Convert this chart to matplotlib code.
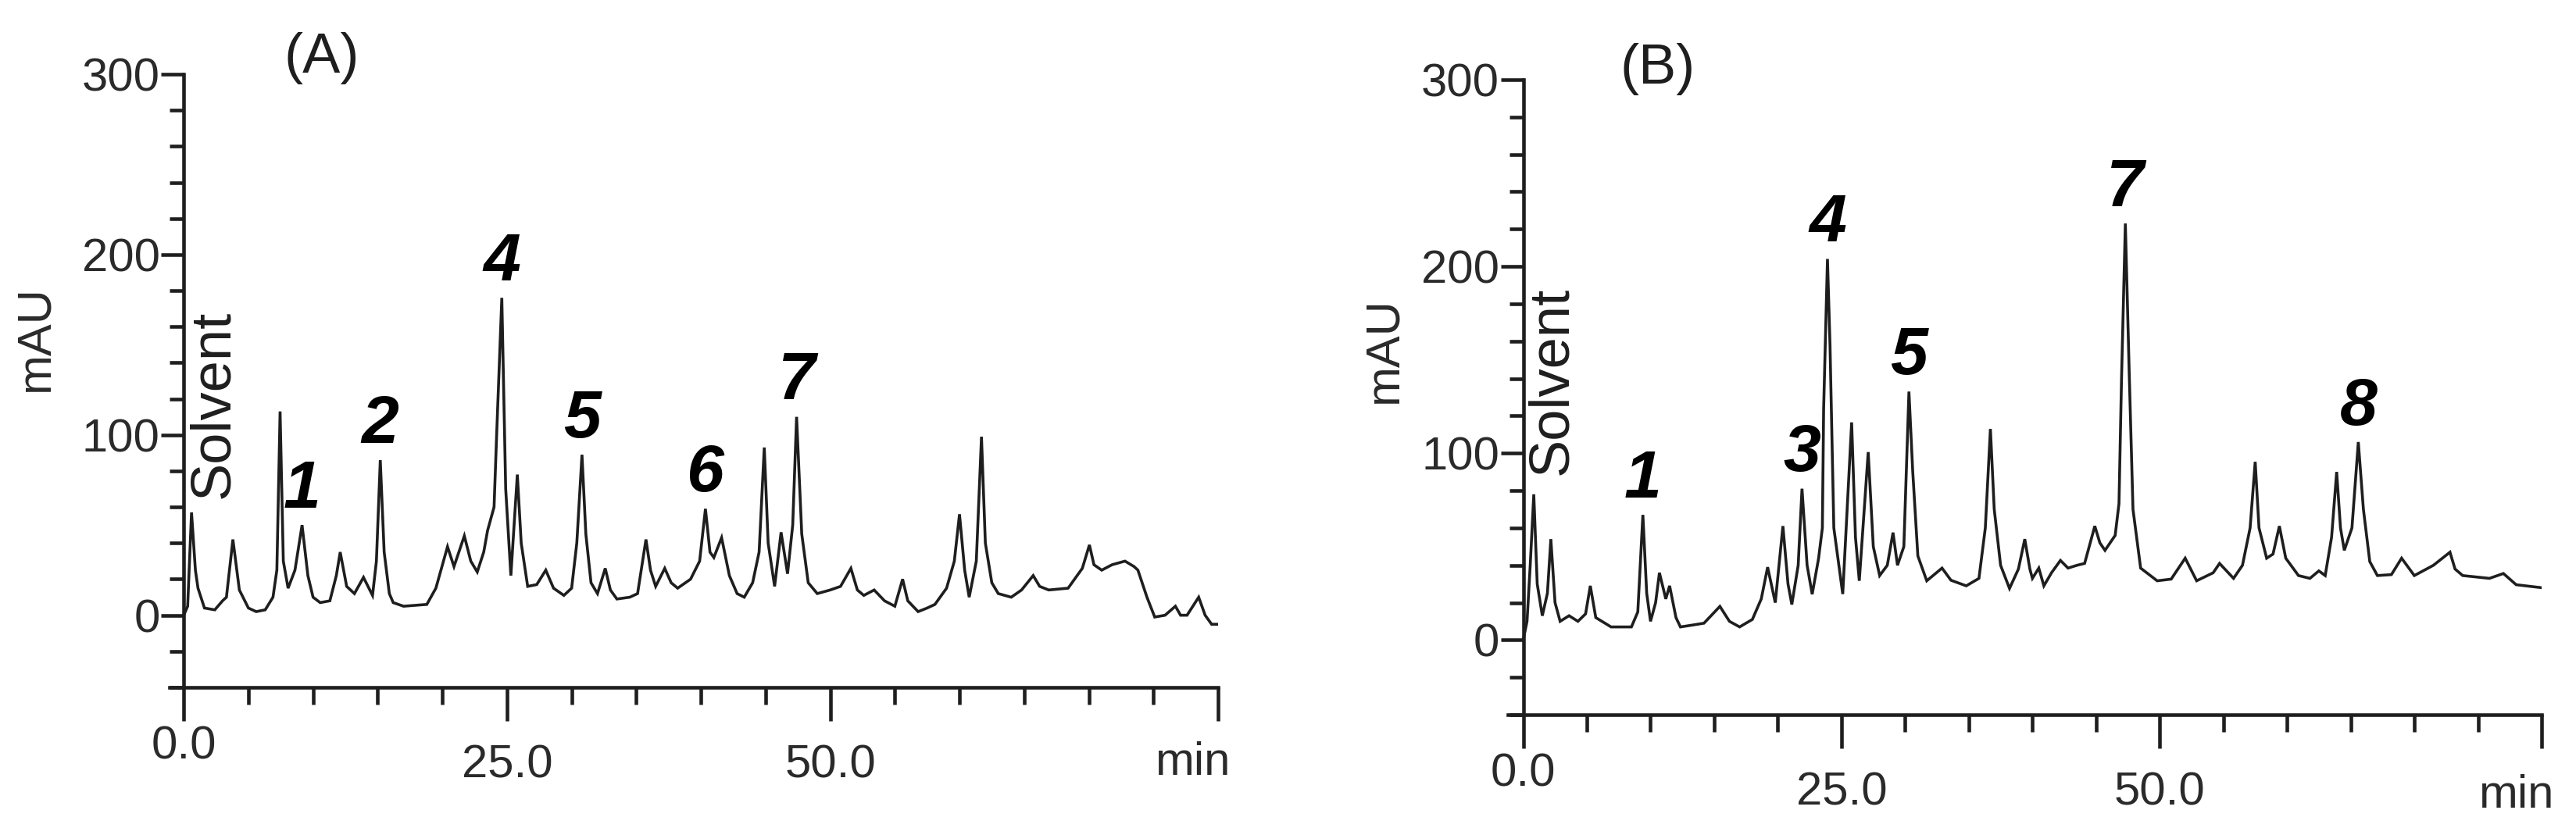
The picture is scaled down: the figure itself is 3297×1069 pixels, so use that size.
import numpy as np
import matplotlib
matplotlib.use("Agg")
import matplotlib.pyplot as plt

plt.rcParams['font.family'] = ['Liberation Sans Narrow', 'Liberation Sans', 'DejaVu Sans']

# chromatogram A (time in min, mAU)
time_a = [0.0, 0.3, 0.6, 0.9, 1.1, 1.6, 2.4, 3.0, 3.3, 3.8, 4.3, 5.0, 5.6, 6.3, 6.9,
          7.2, 7.45, 7.7, 8.07, 8.6, 9.15, 9.6, 10.0, 10.55, 11.3, 11.8, 12.1, 12.6,
          13.2, 13.9, 14.6, 14.9, 15.2, 15.5, 15.9, 16.2, 17.0, 18.8, 19.5, 20.4, 20.9,
          21.7, 22.2, 22.7, 23.2, 23.5, 24.0, 24.2, 24.6, 24.9, 25.3, 25.8, 26.1, 26.6,
          27.3, 28.0, 28.6, 29.4, 30.0, 30.4, 30.8, 31.1, 31.5, 32.0, 32.6, 33.0, 33.5,
          34.5, 35.1, 35.75, 36.1, 36.5, 37.2, 37.7, 38.2, 39.2, 39.9, 40.35, 40.7, 41.0,
          41.6, 42.2, 42.8, 43.35, 44.0, 44.5, 44.9, 45.2, 45.7, 46.2, 46.7, 47.1, 47.4,
          47.8, 48.3, 49.0, 50.0, 50.8, 51.6, 52.1, 52.6, 53.4, 54.2, 55.0, 55.6, 56.0,
          56.8, 57.5, 58.1, 59.0, 59.6, 60.0, 60.4, 60.75, 61.3, 61.7, 62.0, 62.5, 63.0,
          64.0, 64.8, 65.7, 66.2, 66.9, 68.4, 69.5, 70.05, 70.4, 71.0, 71.8, 72.8, 73.5,
          73.8, 74.5, 75.1, 75.9, 76.7, 77.1, 77.6, 78.5, 79.0, 79.5, 80.0]
mau_a = [0, 5, 57, 25, 15, 4, 3, 8, 10, 42, 14, 4, 2, 3, 10,
         25, 113, 30, 15, 25, 50, 22, 10, 7, 8, 22, 35, 16,
         12, 21, 11, 30, 86, 35, 12, 7, 5, 6, 15, 38, 27,
         44, 30, 24, 35, 47, 60, 100, 176, 70, 22, 78, 40, 16,
         17, 25, 15, 11, 15, 40, 89, 45, 18, 12, 26, 14, 9,
         10, 12, 42, 25, 16, 26, 18, 15, 20, 30, 59, 35, 32,
         43, 22, 12, 10, 18, 35, 93, 40, 16, 46, 23, 50, 110,
         45, 18, 12, 14, 16, 26, 14, 11, 14, 8, 5, 20, 8,
         2, 4, 6, 15, 30, 56, 25, 10, 30, 99, 40, 18, 12,
         10, 14, 22, 16, 14, 15, 26, 39, 28, 25, 28, 30, 27,
         25, 10, -1, 0, 5, 0, 0, 10, 0, -5, -5]

# chromatogram B
time_b = [0.0, 0.3, 0.55, 0.83, 1.1, 1.5, 1.9, 2.17, 2.5, 2.9, 3.6, 4.3, 4.9, 5.27, 5.7,
          6.9, 8.5, 9.0, 9.4, 9.7, 10.0, 10.4, 10.7, 11.2, 11.5, 12.0, 12.35, 13.3, 14.2,
          15.45, 16.2, 17.0, 18.0, 18.7, 19.2, 19.8, 20.4, 20.8, 21.1, 21.6, 21.9, 22.3,
          22.7, 23.2, 23.5, 23.6, 23.9, 24.1, 24.4, 25.1, 25.8, 26.1, 26.4, 27.1, 27.5,
          28.0, 28.6, 29.05, 29.4, 29.9, 30.3, 30.6, 31.0, 31.7, 32.9, 33.6, 34.8, 35.8,
          36.3, 36.7, 37.0, 37.5, 38.2, 38.9, 39.4, 39.8, 40.0, 40.5, 40.9, 41.5, 42.2,
          42.8, 43.5, 44.1, 44.9, 45.3, 45.7, 46.5, 46.8, 47.0, 47.3, 47.6, 47.9, 48.5,
          49.8, 50.9, 52.0, 52.9, 54.2, 54.7, 55.8, 56.5, 57.1, 57.5, 57.8, 58.4, 58.9,
          59.4, 59.9, 60.9, 61.8, 62.5, 63.0, 63.5, 63.9, 64.2, 64.5, 65.1, 65.6, 66.0,
          66.5, 67.1, 68.2, 69.0, 70.0, 71.5, 72.8, 73.2, 73.8, 75.9, 77.0, 78.0, 80.0]
mau_b = [0, 10, 40, 78, 30, 13, 25, 54, 20, 10, 13, 10, 14, 29, 12,
         7, 7, 15, 67, 25, 10, 20, 36, 22, 29, 12, 7, 8, 9,
         18, 10, 7, 11, 22, 39, 20, 61, 30, 19, 40, 81, 40,
         24.5, 43.6, 60, 124, 204, 158, 60, 24.6, 116.5, 55, 31.7, 100.6, 50,
         34.5, 40, 57.5, 40, 50, 133, 90, 45, 31.7, 38.5, 32, 29, 33,
         60, 113, 70, 40, 27.6, 38, 54, 38, 33, 38.5, 29, 36, 42.6,
         38.5, 40, 41, 61, 52, 48, 56, 73, 140, 223, 144, 70, 38.5,
         31.7, 32.6, 43.8, 31.7, 36, 41, 33, 40, 60, 95.4, 60, 43.8, 46,
         61, 43.8, 34.5, 33, 37, 34.5, 55, 90, 60, 48, 60, 106, 70,
         42, 34.5, 35, 43.8, 34.5, 40, 47, 38, 34.5, 33, 35.6, 29.6, 28]

peaks_a = ['1', '2', '4', '5', '6', '7']
peak_time_a = [9.15, 15.2, 24.6, 30.8, 40.35, 47.4]
peaks_b = ['1', '3', '4', '5', '7', '8']
peak_time_b = [9.4, 21.9, 23.9, 30.3, 47.3, 65.6]

x_labels = ['0.0', '25.0', '50.0', '']
y_labels = ['0', '100', '200', '300']

ink = '#1e1e1e'
grey_text = '#2a2a2a'
sans = ['Liberation Sans', 'DejaVu Sans']
W, H = 3297, 1069
fig = plt.figure(figsize=(W / 100, H / 100), dpi=100)


def chrom(rect, t, v, names, ptimes, solvent_y, xmin, min_drop):
    ax = fig.add_axes(rect)
    ax.plot(t, v, color=ink, lw=2.6, solid_joinstyle='miter')
    ax.set_xlim(xmin, 80)
    ax.set_ylim(-40, 300)
    for s in ['top', 'right']:
        ax.spines[s].set_visible(False)
    ax.spines['left'].set_position(('data', 0))
    for s in ['left', 'bottom']:
        ax.spines[s].set_linewidth(3.3)
        ax.spines[s].set_color(ink)

    ax.set_xticks([0, 25, 50, 80])
    ax.set_xticklabels(x_labels)
    ax.set_xticks([m for m in range(5, 80, 5) if m not in (25, 50)], minor=True)
    ax.set_yticks([0, 100, 200, 300])
    ax.set_yticklabels(y_labels)
    ax.set_yticks([m for m in range(-40, 300, 20) if m % 100 != 0], minor=True)
    ax.tick_params(axis='x', which='major', length=31, width=3.3, color=ink,
                   pad=4, labelsize=43, labelcolor=grey_text)
    ax.tick_params(axis='x', which='minor', length=16, width=3.3, color=ink)
    ax.tick_params(axis='y', which='major', length=21, width=3.3, color=ink,
                   pad=1, labelsize=43, labelcolor=grey_text)
    ax.tick_params(axis='y', which='minor', length=13, width=3.3, color=ink)
    # the 25.0 and 50.0 labels sit a little lower than 0.0 in the original
    for tk in ax.xaxis.get_major_ticks()[1:3]:
        tk.set_pad(21)

    ax.annotate('min', xy=(78, 0), xycoords=('data', 'axes fraction'),
                xytext=(0, -min_drop), textcoords='offset points',
                ha='center', va='baseline', fontsize=43, color=grey_text)
    ax.text(2.3, solvent_y, 'Solvent', rotation=90, ha='center', va='center',
            fontsize=52, color=ink, family=sans)
    for name, pt in zip(names, ptimes):
        h = np.interp(pt, t, v)
        ax.annotate(name, xy=(pt, h), xytext=(0, 16), textcoords='offset points',
                    ha='center', va='baseline', fontsize=62, fontweight='bold',
                    fontstyle='italic', color='black')
    return ax


ax_a = chrom([217 / W, 1 - 880 / H, (1559 - 217) / W, (880 - 95) / H],
             time_a, mau_a, peaks_a, peak_time_a, 117, -1.1, 81)
ax_b = chrom([1930 / W, 1 - 915 / H, (3253 - 1930) / W, (915 - 102) / H],
             time_b, mau_b, peaks_b, peak_time_b, 139, -1.2, 86)

fig.text(46 / W, 1 - 433 / H, 'mAU', rotation=90, ha='center', va='center',
         fontsize=44, color=grey_text, family=sans)
fig.text(1772 / W, 1 - 448 / H, 'mAU', rotation=90, ha='center', va='center',
         fontsize=44, color=grey_text, family=sans)
fig.text(412 / W, 1 - 75 / H, '(A)', ha='center', va='center', fontsize=52,
         color=ink, family=sans)
fig.text(2122 / W, 1 - 88 / H, '(B)', ha='center', va='center', fontsize=52,
         color=ink, family=sans)

fig.savefig('out.png', dpi=100)
